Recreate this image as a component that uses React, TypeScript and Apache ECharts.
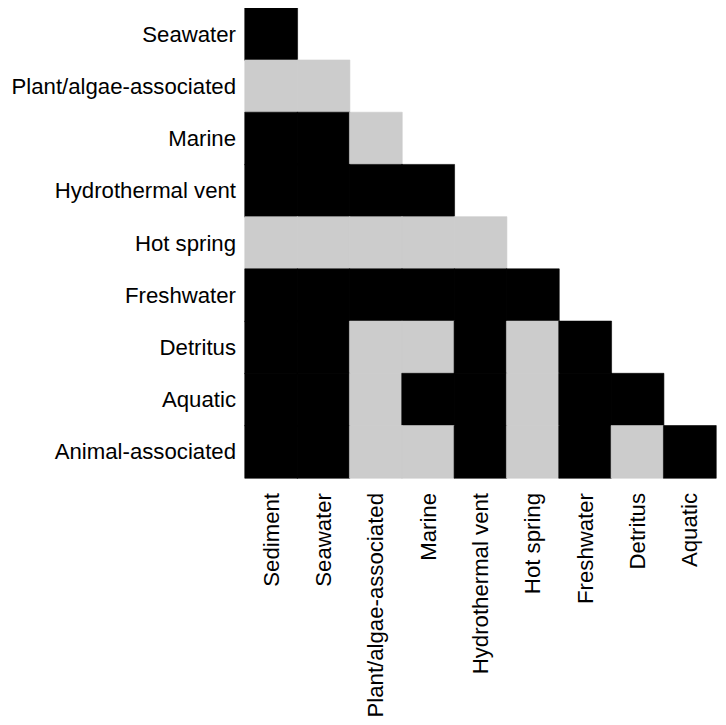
import React, { useEffect, useRef } from "react";
import * as echarts from "echarts";

const xCategories = [
  "Sediment",
  "Seawater",
  "Plant/algae-associated",
  "Marine",
  "Hydrothermal vent",
  "Hot spring",
  "Freshwater",
  "Detritus",
  "Aquatic",
];

const yCategories = [
  "Seawater",
  "Plant/algae-associated",
  "Marine",
  "Hydrothermal vent",
  "Hot spring",
  "Freshwater",
  "Detritus",
  "Aquatic",
  "Animal-associated",
];

// 1 = black, 0 = gray; row i holds values for columns 0..i
const rowSeawater = [1];
const rowPlant = [0, 0];
const rowMarine = [1, 1, 0];
const rowHydrothermal = [1, 1, 1, 1];
const rowHotSpring = [0, 0, 0, 0, 0];
const rowFreshwater = [1, 1, 1, 1, 1, 1];
const rowDetritus = [1, 1, 0, 0, 1, 0, 1];
const rowAquatic = [1, 1, 0, 1, 1, 0, 1, 1];
const rowAnimal = [1, 1, 0, 0, 1, 0, 1, 0, 1];

const rows = [
  rowSeawater,
  rowPlant,
  rowMarine,
  rowHydrothermal,
  rowHotSpring,
  rowFreshwater,
  rowDetritus,
  rowAquatic,
  rowAnimal,
];

const colors = ["#cccccc", "#000000"];

export default function App() {
  const ref = useRef<HTMLDivElement>(null);
  useEffect(() => {
    if (!ref.current) return;
    const chart = echarts.init(ref.current, undefined, { renderer: "svg" });
    const data: any[] = [];
    rows.forEach((row, yi) => {
      row.forEach((v, xi) =>
        data.push({
          value: [xi, yi, v],
          itemStyle: { borderColor: colors[v], borderWidth: 0.6 },
        })
      );
    });
    const font = "Liberation Sans, Arial, sans-serif";
    chart.setOption({
      animation: false,
      grid: {
        left: 237,
        top: 0,
        width: 471,
        height: 470,
        outerBoundsMode: "none",
        containLabel: false,
      },
      xAxis: {
        type: "category",
        data: xCategories,
        axisLine: { show: false },
        axisTick: { show: false },
        splitLine: { show: false },
        axisLabel: {
          rotate: 90,
          margin: 15,
          fontSize: 22.2,
          color: "#000",
          fontFamily: font,
          interval: 0,
        },
      },
      yAxis: {
        type: "category",
        data: yCategories,
        inverse: true,
        axisLine: { show: false },
        axisTick: { show: false },
        splitLine: { show: false },
        axisLabel: {
          margin: 9,
          fontSize: 22.2,
          color: "#000",
          fontFamily: font,
          interval: 0,
        },
      },
      visualMap: {
        show: false,
        type: "piecewise",
        dimension: 2,
        pieces: [
          { value: 0, color: colors[0] },
          { value: 1, color: colors[1] },
        ],
      },
      series: [
        {
          type: "heatmap",
          data,
          emphasis: { disabled: true },
        },
      ],
    });
    return () => chart.dispose();
  }, []);
  return <div ref={ref} style={{ width: 710, height: 717 }} />;
}
